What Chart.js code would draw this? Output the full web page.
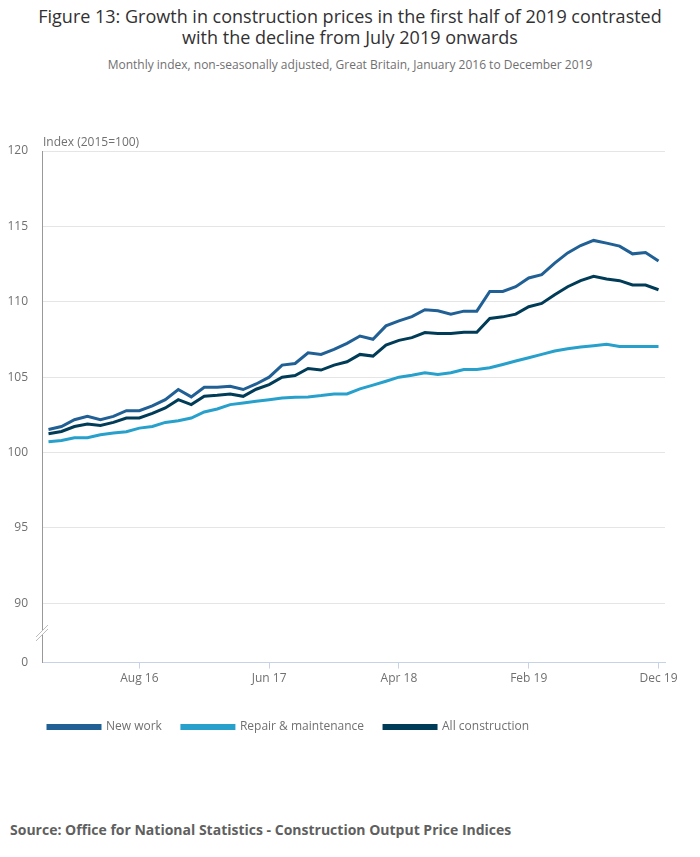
<!DOCTYPE html>
<html>
<head>
  <title>Construction prices</title>
  <script src="https://cdn.jsdelivr.net/npm/chart.js"></script>
  <style>
    body { margin: 0; width: 700px; height: 857px; font-family: "Open Sans", sans-serif; background: #fff; position: relative; }
    .title { position: absolute; top: 6px; left: 0; width: 700px; text-align: center; font-size: 18px; line-height: 21px; color: #323132; }
    .subtitle { position: absolute; top: 56px; left: 0; width: 700px; text-align: center; font-size: 12px; color: #707070; }
    .wrap { position: absolute; top: 120px; left: 0; width: 700px; height: 631px; }
    .source { position: absolute; top: 820px; left: 10px; font-size: 14px; font-weight: bold; color: #5f5f5f; }
  </style>
</head>
<body>
  <div class="title">Figure 13: Growth in construction prices in the first half of 2019 contrasted<br>with the decline from July 2019 onwards</div>
  <div class="subtitle">Monthly index, non-seasonally adjusted, Great Britain, January 2016 to December 2019</div>
  <div class="wrap"><canvas id="chart"></canvas></div>
  <div class="source">Source: Office for National Statistics - Construction Output Price Indices</div>
  <script>
    const months = [];
    ['16', '17', '18', '19'].forEach(y => {
      ['Jan','Feb','Mar','Apr','May','Jun','Jul','Aug','Sep','Oct','Nov','Dec'].forEach(m => months.push(m + ' ' + y));
    });
    const shownLabels = ['Aug 16', 'Jun 17', 'Apr 18', 'Feb 19', 'Dec 19'];
    const yTicks = [90, 95, 100, 105, 110, 115, 120];
    const breakMin = 86.07; // bottom of the broken axis, labelled 0

    const newWork = [101.53,101.73,102.18,102.4,102.18,102.4,102.78,102.78,103.09,103.51,104.18,103.69,
      104.33,104.33,104.4,104.18,104.55,105.0,105.8,105.91,106.62,106.51,106.84,107.24,
      107.73,107.51,108.4,108.73,109.02,109.47,109.4,109.18,109.38,109.38,110.69,110.69,
      111.0,111.58,111.8,112.56,113.24,113.73,114.07,113.89,113.69,113.18,113.27,112.71];
    const repair = [100.71,100.8,100.98,100.98,101.18,101.29,101.38,101.62,101.73,102.0,102.11,102.29,
      102.69,102.89,103.18,103.29,103.4,103.51,103.62,103.67,103.69,103.78,103.89,103.89,
      104.22,104.47,104.73,105.0,105.13,105.29,105.18,105.29,105.51,105.51,105.62,105.84,
      106.07,106.29,106.51,106.73,106.89,107.0,107.09,107.18,107.04,107.04,107.04,107.04];
    const allCons = [101.25,101.4,101.73,101.9,101.8,102.0,102.29,102.29,102.6,102.96,103.51,103.18,
      103.73,103.8,103.89,103.73,104.2,104.51,105.0,105.11,105.58,105.47,105.8,106.02,
      106.51,106.4,107.13,107.44,107.62,107.96,107.89,107.89,107.98,107.98,108.89,109.0,
      109.18,109.67,109.89,110.47,111.0,111.4,111.69,111.51,111.4,111.11,111.11,110.8];

    // axis break marks, y axis caption, legend nudged right
    const extras = {
      id: 'extras',
      beforeDraw(chart) {
        chart.legend.left = 28;
      },
      afterDraw(chart) {
        const ctx = chart.ctx, a = chart.chartArea, y = chart.scales.y;
        const yb = (y.getPixelForValue(90) + y.getPixelForValue(breakMin)) / 2;
        const x = a.left;
        ctx.save();
        ctx.fillStyle = '#fff';
        ctx.beginPath();
        ctx.moveTo(x - 6, yb + 4); ctx.lineTo(x + 6, yb - 8);
        ctx.lineTo(x + 6, yb - 4); ctx.lineTo(x - 6, yb + 8);
        ctx.closePath(); ctx.fill();
        ctx.strokeStyle = '#bbb'; ctx.lineWidth = 1;
        ctx.beginPath();
        ctx.moveTo(x - 6, yb + 4); ctx.lineTo(x + 6, yb - 8);
        ctx.moveTo(x - 6, yb + 8); ctx.lineTo(x + 6, yb - 4);
        ctx.stroke();
        ctx.fillStyle = '#707070';
        ctx.font = '12px "Open Sans"';
        ctx.textBaseline = 'bottom';
        ctx.fillText('Index (2015=100)', a.left + 1, a.top - 2);
        ctx.restore();
      }
    };

    new Chart(document.getElementById('chart'), {
      type: 'line',
      data: {
        labels: months,
        datasets: [
          { label: 'New work', data: newWork, borderColor: '#206095', backgroundColor: '#206095' },
          { label: 'Repair & maintenance', data: repair, borderColor: '#27a0cc', backgroundColor: '#27a0cc' },
          { label: 'All construction', data: allCons, borderColor: '#003c57', backgroundColor: '#003c57' }
        ]
      },
      options: {
        responsive: true,
        maintainAspectRatio: false,
        animation: false,
        elements: { line: { borderWidth: 3, tension: 0 }, point: { radius: 0 } },
        layout: { padding: { top: 31, right: 35, left: 0, bottom: 8 } },
        plugins: {
          tooltip: { enabled: false },
          legend: {
            position: 'bottom',
            align: 'start',
            labels: {
              boxWidth: 52, boxHeight: 3, padding: 20,
              color: '#707070', font: { family: 'Open Sans', size: 12 }
            }
          }
        },
        scales: {
          x: {
            offset: true,
            afterFit: s => { s.height += 12; },
            grid: {
              drawOnChartArea: false, tickLength: 6,
              color: ctx => shownLabels.includes(months[ctx.index]) ? '#c6d3e6' : 'rgba(0,0,0,0)'
            },
            border: { color: '#c6d3e6' },
            ticks: {
              autoSkip: false, maxRotation: 0, padding: 3,
              color: '#707070', font: { family: 'Open Sans', size: 12 },
              callback: (v, i) => shownLabels.includes(months[i]) ? months[i] : ''
            }
          },
          y: {
            min: breakMin, max: 120,
            afterBuildTicks: s => { s.ticks = [breakMin].concat(yTicks).map(v => ({ value: v })); },
            afterFit: s => { s.width = 42; },
            grid: {
              drawTicks: false,
              color: ctx => ctx.tick && ctx.tick.value === breakMin ? 'rgba(0,0,0,0)' : '#e5e5e5'
            },
            border: { color: '#999' },
            ticks: {
              padding: 14,
              color: '#707070', font: { family: 'Open Sans', size: 12 },
              callback: v => v === breakMin ? '0' : v
            }
          }
        }
      },
      plugins: [extras]
    });
  </script>
</body>
</html>
